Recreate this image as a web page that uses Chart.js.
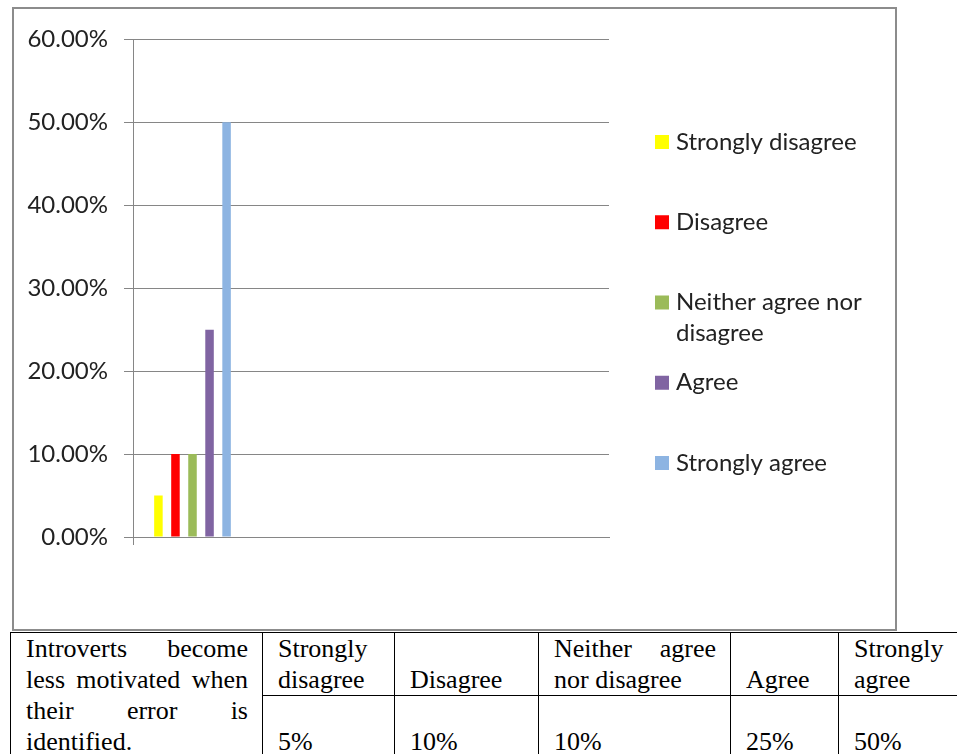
<!DOCTYPE html>
<html>
<head>
<meta charset="utf-8">
<script src="https://cdn.jsdelivr.net/npm/chart.js@4.4.1/dist/chart.umd.min.js"></script>
<style>
  html, body { margin: 0; padding: 0; background: #fff; width: 957px; height: 754px; overflow: hidden; }
  #box { position: absolute; left: 12px; top: 7px; width: 881px; height: 620px; border: 2px solid #8c8c8c; }
  #tbl { position: absolute; left: 10px; top: 632px; width: 970px; border-collapse: collapse; table-layout: fixed;
         font-family: "Liberation Serif", "Times New Roman", serif; font-size: 26px; line-height: 31px; color: #000; }
  #tbl td { border: 1px solid #000; padding: 0 14px 0 15px; text-align: justify; vertical-align: bottom; overflow: hidden; }
  #tbl td.q { vertical-align: top; }
</style>
</head>
<body>
<div id="box"><canvas id="survey" width="881" height="620"></canvas></div>
<table id="tbl">
  <colgroup>
    <col style="width:252px"><col style="width:132px"><col style="width:144px">
    <col style="width:192px"><col style="width:108px"><col style="width:142px">
  </colgroup>
  <tbody>
    <tr id="headRow" style="height:63px"></tr>
    <tr id="valueRow" style="height:62px"></tr>
  </tbody>
</table>
<script>
// survey question and answer shares (percent)
const question = "Introverts become less motivated when their error is identified.";
const responses = ["Strongly disagree", "Disagree", "Neither agree nor disagree", "Agree", "Strongly agree"];
const shares = [5, 10, 10, 25, 50];
// the first slot holds the question, the rest stay empty
const categories = [question, "", "", ""];
const yTicks = [0, 10, 20, 30, 40, 50, 60];

const barColors = ["#FFFF00", "#FF0000", "#9BBB59", "#8064A2", "#8DB4E2"];
const gridGray = "#868686";
const textGray = "#222";

// legend on the right, one item per response, spread evenly
const sideLegend = {
  id: "sideLegend",
  afterDraw(chart) {
    const ctx = chart.ctx;
    ctx.save();
    ctx.font = "24px Lato";
    ctx.textBaseline = "middle";
    chart.data.datasets.forEach((ds, i) => {
      const y = 133 + i * 80.25;
      ctx.fillStyle = ds.backgroundColor;
      ctx.fillRect(641, y - 7, 14, 14);
      ctx.fillStyle = textGray;
      const words = ds.label.split(" ");
      const lines = [];
      let cur = "";
      words.forEach((w) => {
        const test = cur ? cur + " " + w : w;
        if (cur && ctx.measureText(test).width > 200) {
          lines.push(cur);
          cur = w;
        } else {
          cur = test;
        }
      });
      lines.push(cur);
      lines.forEach((line, k) => ctx.fillText(line, 662, y + k * 31));
    });
    ctx.restore();
  },
};

new Chart(document.getElementById("survey"), {
  type: "bar",
  data: {
    labels: categories,
    datasets: responses.map((name, i) => ({
      label: name,
      data: [shares[i]],
      backgroundColor: barColors[i],
      borderWidth: 0,
      categoryPercentage: 0.716,
      barPercentage: 0.5,
    })),
  },
  options: {
    responsive: false,
    animation: false,
    devicePixelRatio: 1,
    layout: { padding: { left: 0, top: 28, right: 286, bottom: 84 } },
    plugins: { legend: { display: false }, tooltip: { enabled: false } },
    scales: {
      x: {
        ticks: { display: false },
        grid: {
          drawOnChartArea: false,
          tickLength: 8,
          color: (c) => (c.index === 0 ? gridGray : "rgba(0,0,0,0)"),
        },
        border: { display: true, color: gridGray },
        afterFit: (s) => { s.height = 8; },
      },
      y: {
        min: 0,
        max: 60,
        afterBuildTicks: (s) => { s.ticks = yTicks.map((v) => ({ value: v })); },
        ticks: {
          padding: 16,
          color: textGray,
          font: { family: "Lato", size: 24 },
          callback: (v) => v.toFixed(2) + "%",
        },
        grid: { color: gridGray, tickLength: 9 },
        border: { display: true, color: gridGray },
        afterFit: (s) => { s.width = 119; },
      },
    },
  },
  plugins: [sideLegend],
});

// data table under the chart
const headRow = document.getElementById("headRow");
const valueRow = document.getElementById("valueRow");
const qCell = document.createElement("td");
qCell.className = "q";
qCell.rowSpan = 2;
qCell.textContent = question;
headRow.appendChild(qCell);
responses.forEach((name, i) => {
  const h = document.createElement("td");
  h.textContent = name;
  headRow.appendChild(h);
  const v = document.createElement("td");
  v.textContent = shares[i] + "%";
  valueRow.appendChild(v);
});
</script>
</body>
</html>
